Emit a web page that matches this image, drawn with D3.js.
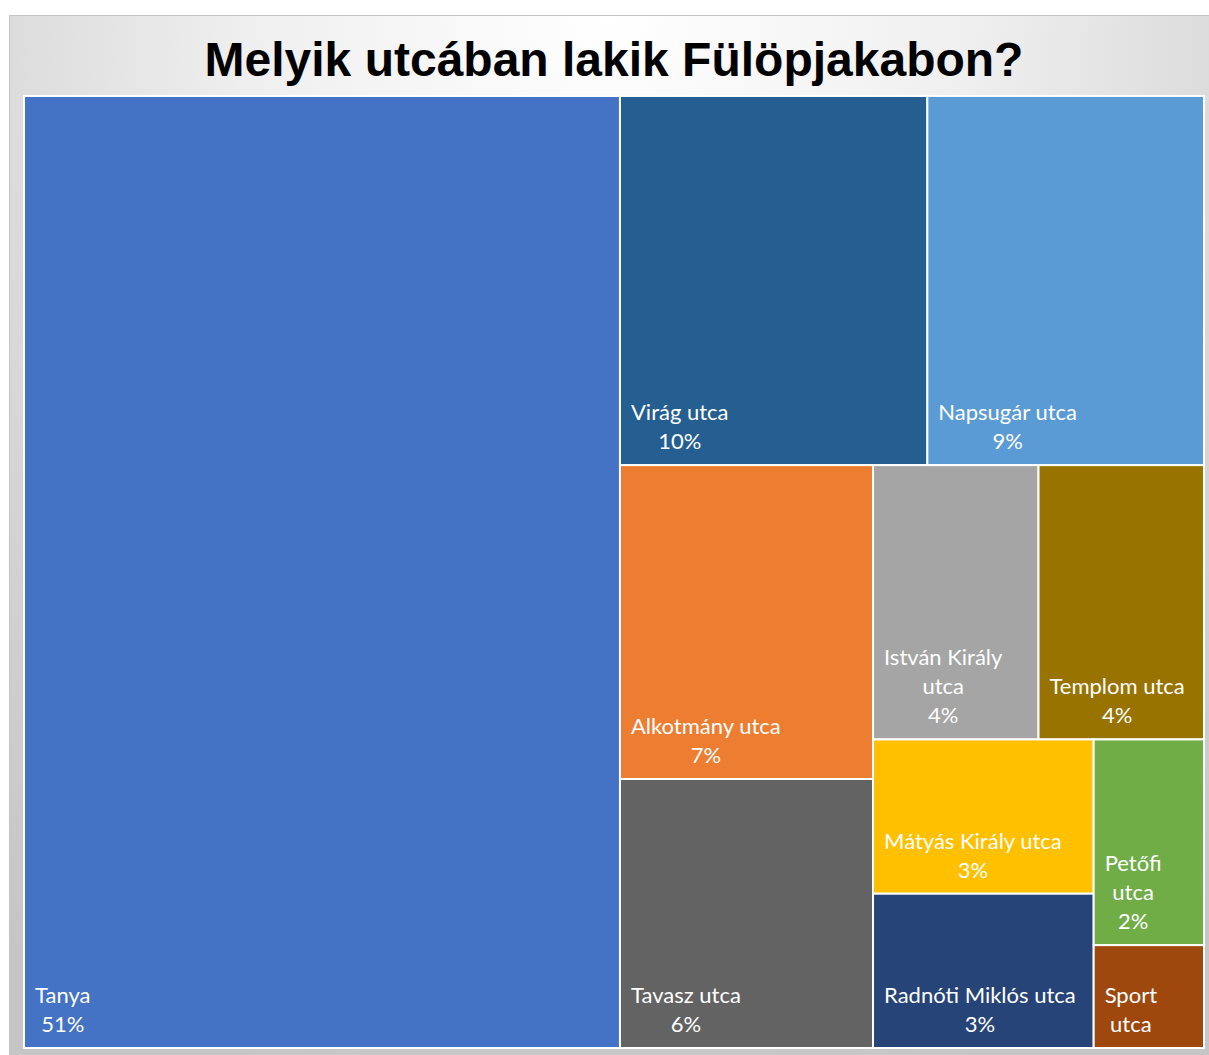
<!DOCTYPE html>
<html>
<head>
<meta charset="utf-8">
<script src="https://cdn.jsdelivr.net/npm/d3@7"></script>
<style>
  html, body { margin: 0; padding: 0; background: #ffffff; }
  svg { display: block; }
</style>
</head>
<body>
<svg id="chart" width="1209" height="1055"></svg>
<script>
// Streets and number of respondents living in each
const streets = [
  "Tanya", "Virág utca", "Napsugár utca", "Alkotmány utca", "Tavasz utca",
  "István Király utca", "Templom utca", "Mátyás Király utca",
  "Radnóti Miklós utca", "Petőfi utca", "Sport utca"
];
const residents = [50, 10, 9, 7, 6, 4, 4, 3, 3, 2, 1];
const colors = [
  "#4472C4", "#255E91", "#5B9BD5", "#ED7D31", "#636363",
  "#A5A5A5", "#997300", "#FFC000", "#264478", "#70AD47", "#9E480E"
];
const title = "Melyik utcában lakik Fülöpjakabon?";

const W = 1209, H = 1055;
const svg = d3.select("#chart");
const defs = svg.append("defs");

// Soft grey background, lightest behind the title
const bg = defs.append("radialGradient")
  .attr("id", "bgGrad")
  .attr("gradientUnits", "userSpaceOnUse")
  .attr("cx", 609).attr("cy", 15).attr("r", 1100);
[[0, "#ffffff"], [0.33, "#efefef"], [0.55, "#dcdcdc"], [0.66, "#d6d6d6"], [0.94, "#c8c8c8"], [1, "#c6c6c6"]]
  .forEach(([o, c]) => bg.append("stop").attr("offset", o).attr("stop-color", c));

svg.append("rect")
  .attr("x", 9.5).attr("y", 15.5)
  .attr("width", W - 9).attr("height", H - 15)
  .attr("fill", "url(#bgGrad)")
  .attr("stroke", "#c4c4c4").attr("stroke-width", 1);

svg.append("text")
  .attr("x", 614).attr("y", 76)
  .attr("text-anchor", "middle")
  .attr("font-family", "'Liberation Sans', Arial, sans-serif")
  .attr("font-weight", "bold")
  .attr("font-size", 48)
  .attr("fill", "#000000")
  .text(title);

// Treemap
const plot = { x: 24, y: 96, w: 1180, h: 952 };
const items = streets.map((name, i) => ({ name, value: residents[i], color: colors[i] }));
const total = d3.sum(residents);

const root = d3.hierarchy({ children: items })
  .sum(d => d.value || 0)
  .sort((a, b) => b.value - a.value);

d3.treemap()
  .tile(d3.treemapSquarify.ratio(1))
  .size([plot.w, plot.h])
  .round(false)(root);

const g = svg.append("g").attr("transform", `translate(${plot.x},${plot.y})`);

const cell = g.selectAll("g.cell")
  .data(root.leaves())
  .join("g")
  .attr("class", "cell");

cell.append("rect")
  .attr("x", d => d.x0).attr("y", d => d.y0)
  .attr("width", d => d.x1 - d.x0).attr("height", d => d.y1 - d.y0)
  .attr("fill", d => d.data.color)
  .attr("stroke", "#ffffff").attr("stroke-width", 2);

const fontSize = 22, lineH = 29, pad = 12;
const fontFamily = "Lato, 'Open Sans', sans-serif";

// Measure text widths for wrapping
const meas = svg.append("text")
  .attr("font-family", fontFamily).attr("font-size", fontSize)
  .attr("visibility", "hidden");
function textWidth(s) { meas.text(s); return meas.node().getComputedTextLength(); }

function wrap(str, maxW) {
  const words = str.split(" ");
  const lines = [];
  let cur = "";
  words.forEach(w => {
    const trial = cur ? cur + " " + w : w;
    if (cur && textWidth(trial) > maxW) { lines.push(cur); cur = w; }
    else cur = trial;
  });
  if (cur) lines.push(cur);
  return lines;
}

cell.each(function (d) {
  const w = d.x1 - d.x0, h = d.y1 - d.y0;
  const pct = Math.round(d.value / total * 100) + "%";
  let lines = wrap(d.data.name, w - 20).concat([pct]);
  const maxLines = Math.floor((h - 24) / lineH);
  lines = lines.slice(0, maxLines);
  const blockW = d3.max(lines, textWidth);
  const cx = d.x0 + pad - 1 + blockW / 2;
  const lastBase = d.y1 - 16;
  const t = d3.select(this).append("text")
    .attr("font-family", fontFamily)
    .attr("font-size", fontSize)
    .attr("fill", "#ffffff")
    .attr("text-anchor", "middle");
  lines.forEach((ln, i) => {
    t.append("tspan")
      .attr("x", cx)
      .attr("y", lastBase - (lines.length - 1 - i) * lineH)
      .text(ln);
  });
});
meas.remove();
</script>
</body>
</html>
